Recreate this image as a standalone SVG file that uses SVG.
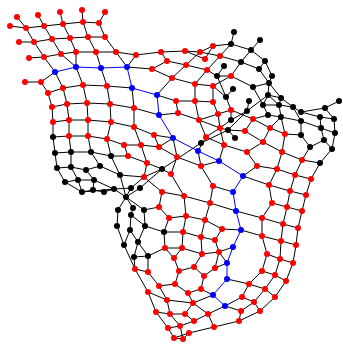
<svg xmlns="http://www.w3.org/2000/svg" width="343" height="345" viewBox="0 0 343 345">
<style>
.e{fill:none;stroke:#000;stroke-width:1}
.b{fill:none;stroke:#00f;stroke-width:1}
.r{fill:#f00}.k{fill:#000}.u{fill:#00f}
</style>
<rect width="343" height="345" fill="#fff"/>
<g id="connectors">
<path class="e" d="M10 26L26 28L44 26L63 24L83 22L99 23M17 17L26 28M38 15L44 26M60 12L63 24M82 10L83 22M105 12L99 23M19 42L34 42L52 39L70 38L88 37L105 37M26 28L34 42M44 26L52 39M63 24L70 38M83 22L88 37M99 23L105 37M29 58L44 57L61 54L76 52L96 52L116 52M34 42L44 57M52 39L61 54M70 38L76 52M88 37L96 52M105 37L116 52M44 57L55 72M61 54L76 67M76 52L76 67M96 52L101 68M116 52L127 67M136 55L127 67M116 52L136 55L161 52L185 51L200 52L220 56L241 62L259 69M200 52L213 46L231 44L251 50L265 61L272 76L269 83M241 62L251 50M259 69L265 61M259 69L269 83M231 44L234 32M251 50L260 40M231 44L220 56M241 62L231 76M231 76L253 87L269 83M205 59L213 46M185 51L205 59M186 65L200 52M186 65L172 78M161 52L167 61L186 65L207 70L217 76L231 76M152 69L167 61M127 67L152 69L172 78L195 84L213 86M172 78L157 95M195 84L207 70M195 84L195 101M213 86L213 102M176 101L157 95M176 101L195 101L213 102M176 101L178 113M195 101L199 120M213 102L218 114L231 110M213 86L231 76M220 56L207 70M217 76L224 66M217 76L226 97M213 86L226 97L233 89M226 97L231 110M107 86L132 88M110 104L134 108M132 88L134 108L159 115L178 113L199 120L218 114M55 72L41 82M25 82L41 82L48 93L63 88L83 85L107 86M55 72L63 88M76 67L83 85M101 68L107 86M48 93L52 107L67 104L87 103L110 104M63 88L67 104M83 85L87 103M107 86L110 104M52 107L53 122L69 120L88 120L111 122L134 127L154 135L173 138M67 104L69 120M87 103L88 120M110 104L111 122M53 122L53 137L69 136L88 136L107 139L124 145L141 145M69 120L69 136M88 120L88 136M111 122L107 139M134 108L134 127M53 137L55 153L71 152L91 152L111 156L128 156L147 163M69 136L71 152M88 136L91 152M107 139L111 156M55 153L57 168L71 167L86 170L100 166L120 175M71 152L71 167M91 152L100 166M111 156L120 175M57 168L65 182L82 192L93 190L104 192L114 189M71 167L78 180L94 180M65 182L78 180L82 192M86 170L94 180L93 190M94 180L114 189M82 192L114 189L131 188M134 127L141 145M154 135L159 147L177 157L201 166L213 186L233 192M141 145L159 147M124 145L128 156M141 145L147 163M147 163L144 177M147 163L162 169L171 174L184 196M120 175L144 177L162 192M144 177L131 188M162 169L144 177M162 169L140 188M173 138L177 157L171 174M162 192L184 196L210 203L236 211M162 192L159 207L169 218L186 216L205 220L222 229M184 196L186 216M210 203L205 220M213 186L210 203M159 207L144 210M120 175L126 197M114 189L126 197M140 188L126 197M131 188L126 197M126 197L118 210L117 226L124 245M126 197L133 208L131 215L130 230M126 197L144 210L145 226L164 232L183 232L201 237L215 240M131 215L145 226M124 245L130 230M130 230L138 242L145 226M138 242L148 256L134 257L138 242M124 245L135 269M148 256L148 272M134 257L135 269L148 272L159 286L175 284L188 293L201 289L204 276L194 267L179 271L175 284M148 256L165 248L182 248L202 254L219 252L215 268L204 276M164 232L165 248M183 232L182 248M201 237L202 254M215 240L219 252M169 218L164 232M186 216L183 232M205 220L201 237M222 229L215 240M165 248L174 258L179 271M182 248L174 258M202 254L194 267M135 269L148 292L156 312L168 328L174 338L183 339L189 333M148 292L167 300L193 303M159 286L167 300L170 314M156 312L170 314L185 314L194 321M188 293L193 303L185 314M193 303L208 314L194 321L180 326L170 314M180 326L183 339M168 328L180 326M174 338L189 333L214 327L239 321L260 311L275 297L286 281L293 263L296 245L298 228M208 314L214 327M201 289L213 295M193 303L213 295M239 321L241 311L254 302L242 297M254 302L260 311M254 302L265 289L275 297M242 297L249 284L265 289M262 271L249 284M262 271L275 275L286 281M275 275L265 289M267 254L280 259L293 263M267 254L262 271M280 259L275 275M262 236L281 241L296 245M262 236L267 254M281 241L280 259M241 230L262 236L262 218M281 241L283 224M222 229L241 230M219 252L233 247M219 252L227 263L215 268M227 279L249 284M225 306L242 297M225 306L241 311M208 314L225 306M236 211L262 218L283 224L298 228M243 176L269 185L290 191L306 195M257 166L277 169L295 175L311 179M243 176L257 166M277 169L269 185M295 175L290 191M311 179L306 195M269 185L272 203L287 207L302 211M290 191L287 207M306 195L302 211M272 203L262 218M287 207L283 224M302 211L298 228M247 152L257 166M247 152L263 142L282 152L302 160L320 163L332 149M282 152L277 169M302 160L295 175M320 163L311 179M245 131L263 142L270 128L285 134L301 135L310 147L324 140L332 149M253 119L245 131M285 134L282 152M310 147L302 160M231 110L253 119L270 128M253 119L268 115L281 117L301 121L321 128L335 133L332 149M281 117L270 128M281 117L285 134M301 121L301 135M321 128L324 140M301 112L320 117L334 119L335 133M320 117L321 128M293 107L301 121M301 112L325 108L339 101M325 108L334 119M293 107L301 112M269 83L281 98L293 107M268 95L269 83M268 95L281 98L279 105L281 117M268 95L279 105M253 87L263 105L279 105L293 107M263 105L268 95M263 105L268 115M268 95L247 111L228 130L201 143L162 169M249 101L247 111M231 120L247 111M231 110L231 120M220 128L231 120M218 114L220 128L228 130L235 138M228 130L245 131M199 120L220 128M199 120L206 137L220 128L224 145M206 137L198 151M206 137L224 145L247 152M224 145L219 161M198 151L201 166M201 166L219 161M173 138L159 147"/>
<path class="b" d="M55 72L76 67L101 68L127 67L132 88L157 95L159 115L173 138L198 151L219 161L243 176L233 192L236 211L241 230L233 247L227 263L227 279L213 295L225 306"/>
</g>
<g id="nodes-red" class="r">
<g id="r1"><circle cx="17" cy="17" r="3"/></g><g id="r2"><circle cx="38" cy="15" r="3"/></g><g id="r3"><circle cx="60" cy="12" r="3"/></g><g id="r4"><circle cx="82" cy="10" r="3"/></g><g id="r5"><circle cx="105" cy="12" r="3"/></g><g id="r6"><circle cx="10" cy="26" r="3"/></g><g id="r7"><circle cx="26" cy="28" r="3"/></g><g id="r8"><circle cx="44" cy="26" r="3"/></g><g id="r9"><circle cx="63" cy="24" r="3"/></g><g id="r10"><circle cx="83" cy="22" r="3"/></g><g id="r11"><circle cx="99" cy="23" r="3"/></g><g id="r12"><circle cx="19" cy="42" r="3"/></g><g id="r13"><circle cx="34" cy="42" r="3"/></g><g id="r14"><circle cx="52" cy="39" r="3"/></g><g id="r15"><circle cx="70" cy="38" r="3"/></g><g id="r16"><circle cx="88" cy="37" r="3"/></g><g id="r17"><circle cx="105" cy="37" r="3"/></g><g id="r18"><circle cx="29" cy="58" r="3"/></g><g id="r19"><circle cx="44" cy="57" r="3"/></g><g id="r20"><circle cx="61" cy="54" r="3"/></g><g id="r21"><circle cx="76" cy="52" r="3"/></g><g id="r22"><circle cx="96" cy="52" r="3"/></g><g id="r23"><circle cx="116" cy="52" r="3"/></g><g id="r24"><circle cx="136" cy="55" r="3"/></g><g id="r25"><circle cx="161" cy="52" r="3"/></g><g id="r26"><circle cx="185" cy="51" r="3"/></g><g id="r27"><circle cx="200" cy="52" r="3"/></g><g id="r28"><circle cx="213" cy="46" r="3"/></g><g id="r29"><circle cx="220" cy="56" r="3"/></g><g id="r30"><circle cx="205" cy="59" r="3"/></g><g id="r31"><circle cx="167" cy="61" r="3"/></g><g id="r32"><circle cx="186" cy="65" r="3"/></g><g id="r33"><circle cx="207" cy="70" r="3"/></g><g id="r34"><circle cx="152" cy="69" r="3"/></g><g id="r35"><circle cx="172" cy="78" r="3"/></g><g id="r36"><circle cx="195" cy="84" r="3"/></g><g id="r37"><circle cx="213" cy="86" r="3"/></g><g id="r38"><circle cx="231" cy="76" r="3"/></g><g id="r39"><circle cx="25" cy="82" r="3"/></g><g id="r40"><circle cx="41" cy="82" r="3"/></g><g id="r41"><circle cx="48" cy="93" r="3"/></g><g id="r42"><circle cx="63" cy="88" r="3"/></g><g id="r43"><circle cx="83" cy="85" r="3"/></g><g id="r44"><circle cx="107" cy="86" r="3"/></g><g id="r45"><circle cx="52" cy="107" r="3"/></g><g id="r46"><circle cx="67" cy="104" r="3"/></g><g id="r47"><circle cx="87" cy="103" r="3"/></g><g id="r48"><circle cx="110" cy="104" r="3"/></g><g id="r49"><circle cx="134" cy="108" r="3"/></g><g id="r50"><circle cx="53" cy="122" r="3"/></g><g id="r51"><circle cx="69" cy="120" r="3"/></g><g id="r52"><circle cx="88" cy="120" r="3"/></g><g id="r53"><circle cx="111" cy="122" r="3"/></g><g id="r54"><circle cx="134" cy="127" r="3"/></g><g id="r55"><circle cx="69" cy="136" r="3"/></g><g id="r56"><circle cx="88" cy="136" r="3"/></g><g id="r57"><circle cx="107" cy="139" r="3"/></g><g id="r58"><circle cx="124" cy="145" r="3"/></g><g id="r59"><circle cx="141" cy="145" r="3"/></g><g id="r60"><circle cx="154" cy="135" r="3"/></g><g id="r61"><circle cx="159" cy="147" r="3"/></g><g id="r62"><circle cx="128" cy="156" r="3"/></g><g id="r63"><circle cx="147" cy="163" r="3"/></g><g id="r64"><circle cx="144" cy="177" r="3"/></g><g id="r65"><circle cx="171" cy="174" r="3"/></g><g id="r66"><circle cx="177" cy="157" r="3"/></g><g id="r67"><circle cx="176" cy="101" r="3"/></g><g id="r68"><circle cx="195" cy="101" r="3"/></g><g id="r69"><circle cx="213" cy="102" r="3"/></g><g id="r70"><circle cx="178" cy="113" r="3"/></g><g id="r71"><circle cx="199" cy="120" r="3"/></g><g id="r72"><circle cx="218" cy="114" r="3"/></g><g id="r73"><circle cx="231" cy="110" r="3"/></g><g id="r74"><circle cx="220" cy="128" r="3"/></g><g id="r75"><circle cx="206" cy="137" r="3"/></g><g id="r76"><circle cx="224" cy="145" r="3"/></g><g id="r77"><circle cx="201" cy="166" r="3"/></g><g id="r78"><circle cx="213" cy="186" r="3"/></g><g id="r79"><circle cx="184" cy="196" r="3"/></g><g id="r80"><circle cx="162" cy="192" r="3"/></g><g id="r81"><circle cx="210" cy="203" r="3"/></g><g id="r82"><circle cx="159" cy="207" r="3"/></g><g id="r83"><circle cx="169" cy="218" r="3"/></g><g id="r84"><circle cx="186" cy="216" r="3"/></g><g id="r85"><circle cx="205" cy="220" r="3"/></g><g id="r86"><circle cx="222" cy="229" r="3"/></g><g id="r87"><circle cx="183" cy="232" r="3"/></g><g id="r88"><circle cx="201" cy="237" r="3"/></g><g id="r89"><circle cx="215" cy="240" r="3"/></g><g id="r90"><circle cx="165" cy="248" r="3"/></g><g id="r91"><circle cx="182" cy="248" r="3"/></g><g id="r92"><circle cx="202" cy="254" r="3"/></g><g id="r93"><circle cx="219" cy="252" r="3"/></g><g id="r94"><circle cx="174" cy="258" r="3"/></g><g id="r95"><circle cx="135" cy="269" r="3"/></g><g id="r96"><circle cx="148" cy="272" r="3"/></g><g id="r97"><circle cx="179" cy="271" r="3"/></g><g id="r98"><circle cx="194" cy="267" r="3"/></g><g id="r99"><circle cx="215" cy="268" r="3"/></g><g id="r100"><circle cx="204" cy="276" r="3"/></g><g id="r101"><circle cx="159" cy="286" r="3"/></g><g id="r102"><circle cx="175" cy="284" r="3"/></g><g id="r103"><circle cx="201" cy="289" r="3"/></g><g id="r104"><circle cx="148" cy="292" r="3"/></g><g id="r105"><circle cx="188" cy="293" r="3"/></g><g id="r106"><circle cx="167" cy="300" r="3"/></g><g id="r107"><circle cx="193" cy="303" r="3"/></g><g id="r108"><circle cx="156" cy="312" r="3"/></g><g id="r109"><circle cx="170" cy="314" r="3"/></g><g id="r110"><circle cx="185" cy="314" r="3"/></g><g id="r111"><circle cx="208" cy="314" r="3"/></g><g id="r112"><circle cx="194" cy="321" r="3"/></g><g id="r113"><circle cx="180" cy="326" r="3"/></g><g id="r114"><circle cx="214" cy="327" r="3"/></g><g id="r115"><circle cx="168" cy="328" r="3"/></g><g id="r116"><circle cx="189" cy="333" r="3"/></g><g id="r117"><circle cx="174" cy="338" r="3"/></g><g id="r118"><circle cx="183" cy="339" r="3"/></g><g id="r119"><circle cx="239" cy="321" r="3"/></g><g id="r120"><circle cx="241" cy="311" r="3"/></g><g id="r121"><circle cx="260" cy="311" r="3"/></g><g id="r122"><circle cx="254" cy="302" r="3"/></g><g id="r123"><circle cx="242" cy="297" r="3"/></g><g id="r124"><circle cx="275" cy="297" r="3"/></g><g id="r125"><circle cx="265" cy="289" r="3"/></g><g id="r126"><circle cx="249" cy="284" r="3"/></g><g id="r127"><circle cx="286" cy="281" r="3"/></g><g id="r128"><circle cx="275" cy="275" r="3"/></g><g id="r129"><circle cx="262" cy="271" r="3"/></g><g id="r130"><circle cx="293" cy="263" r="3"/></g><g id="r131"><circle cx="280" cy="259" r="3"/></g><g id="r132"><circle cx="267" cy="254" r="3"/></g><g id="r133"><circle cx="296" cy="245" r="3"/></g><g id="r134"><circle cx="281" cy="241" r="3"/></g><g id="r135"><circle cx="262" cy="236" r="3"/></g><g id="r136"><circle cx="298" cy="228" r="3"/></g><g id="r137"><circle cx="283" cy="224" r="3"/></g><g id="r138"><circle cx="262" cy="218" r="3"/></g><g id="r139"><circle cx="302" cy="211" r="3"/></g><g id="r140"><circle cx="287" cy="207" r="3"/></g><g id="r141"><circle cx="272" cy="203" r="3"/></g><g id="r142"><circle cx="306" cy="195" r="3"/></g><g id="r143"><circle cx="290" cy="191" r="3"/></g><g id="r144"><circle cx="269" cy="185" r="3"/></g><g id="r145"><circle cx="311" cy="179" r="3"/></g><g id="r146"><circle cx="295" cy="175" r="3"/></g><g id="r147"><circle cx="277" cy="169" r="3"/></g><g id="r148"><circle cx="257" cy="166" r="3"/></g><g id="r149"><circle cx="302" cy="160" r="3"/></g><g id="r150"><circle cx="282" cy="152" r="3"/></g><g id="r151"><circle cx="263" cy="142" r="3"/></g><g id="r152"><circle cx="247" cy="152" r="3"/></g><g id="r153"><circle cx="245" cy="131" r="3"/></g><g id="r154"><circle cx="253" cy="119" r="3"/></g><g id="r155"><circle cx="270" cy="128" r="3"/></g><g id="r156"><circle cx="285" cy="134" r="3"/></g>
</g>
<g id="nodes-black" class="k">
<g id="k1"><circle cx="234" cy="32" r="3"/></g><g id="k2"><circle cx="260" cy="40" r="3"/></g><g id="k3"><circle cx="231" cy="44" r="3"/></g><g id="k4"><circle cx="251" cy="50" r="3"/></g><g id="k5"><circle cx="241" cy="62" r="3"/></g><g id="k6"><circle cx="265" cy="61" r="3"/></g><g id="k7"><circle cx="259" cy="69" r="3"/></g><g id="k8"><circle cx="272" cy="76" r="3"/></g><g id="k9"><circle cx="269" cy="83" r="3"/></g><g id="k10"><circle cx="224" cy="66" r="3"/></g><g id="k11"><circle cx="217" cy="76" r="3"/></g><g id="k12"><circle cx="253" cy="87" r="3"/></g><g id="k13"><circle cx="233" cy="89" r="3"/></g><g id="k14"><circle cx="226" cy="97" r="3"/></g><g id="k15"><circle cx="268" cy="95" r="3"/></g><g id="k16"><circle cx="281" cy="98" r="3"/></g><g id="k17"><circle cx="249" cy="101" r="3"/></g><g id="k18"><circle cx="263" cy="105" r="3"/></g><g id="k19"><circle cx="279" cy="105" r="3"/></g><g id="k20"><circle cx="293" cy="107" r="3"/></g><g id="k21"><circle cx="301" cy="112" r="3"/></g><g id="k22"><circle cx="325" cy="108" r="3"/></g><g id="k23"><circle cx="339" cy="101" r="3"/></g><g id="k24"><circle cx="247" cy="111" r="3"/></g><g id="k25"><circle cx="268" cy="115" r="3"/></g><g id="k26"><circle cx="281" cy="117" r="3"/></g><g id="k27"><circle cx="231" cy="120" r="3"/></g><g id="k28"><circle cx="228" cy="130" r="3"/></g><g id="k29"><circle cx="235" cy="138" r="3"/></g><g id="k30"><circle cx="201" cy="143" r="3"/></g><g id="k31"><circle cx="162" cy="169" r="3"/></g><g id="k32"><circle cx="301" cy="121" r="3"/></g><g id="k33"><circle cx="320" cy="117" r="3"/></g><g id="k34"><circle cx="334" cy="119" r="3"/></g><g id="k35"><circle cx="321" cy="128" r="3"/></g><g id="k36"><circle cx="335" cy="133" r="3"/></g><g id="k37"><circle cx="301" cy="135" r="3"/></g><g id="k38"><circle cx="324" cy="140" r="3"/></g><g id="k39"><circle cx="310" cy="147" r="3"/></g><g id="k40"><circle cx="332" cy="149" r="3"/></g><g id="k41"><circle cx="320" cy="163" r="3"/></g><g id="k42"><circle cx="53" cy="137" r="3"/></g><g id="k43"><circle cx="55" cy="153" r="3"/></g><g id="k44"><circle cx="71" cy="152" r="3"/></g><g id="k45"><circle cx="91" cy="152" r="3"/></g><g id="k46"><circle cx="111" cy="156" r="3"/></g><g id="k47"><circle cx="57" cy="168" r="3"/></g><g id="k48"><circle cx="71" cy="167" r="3"/></g><g id="k49"><circle cx="86" cy="170" r="3"/></g><g id="k50"><circle cx="100" cy="166" r="3"/></g><g id="k51"><circle cx="120" cy="175" r="3"/></g><g id="k52"><circle cx="65" cy="182" r="3"/></g><g id="k53"><circle cx="78" cy="180" r="3"/></g><g id="k54"><circle cx="94" cy="180" r="3"/></g><g id="k55"><circle cx="82" cy="192" r="3"/></g><g id="k56"><circle cx="93" cy="190" r="3"/></g><g id="k57"><circle cx="104" cy="192" r="3"/></g><g id="k58"><circle cx="114" cy="189" r="3"/></g><g id="k59"><circle cx="131" cy="188" r="3"/></g><g id="k60"><circle cx="140" cy="188" r="3"/></g><g id="k61"><circle cx="126" cy="197" r="3"/></g><g id="k62"><circle cx="118" cy="210" r="3"/></g><g id="k63"><circle cx="133" cy="208" r="3"/></g><g id="k64"><circle cx="131" cy="215" r="3"/></g><g id="k65"><circle cx="144" cy="210" r="3"/></g><g id="k66"><circle cx="117" cy="226" r="3"/></g><g id="k67"><circle cx="130" cy="230" r="3"/></g><g id="k68"><circle cx="145" cy="226" r="3"/></g><g id="k69"><circle cx="164" cy="232" r="3"/></g><g id="k70"><circle cx="124" cy="245" r="3"/></g><g id="k71"><circle cx="138" cy="242" r="3"/></g><g id="k72"><circle cx="134" cy="257" r="3"/></g><g id="k73"><circle cx="148" cy="256" r="3"/></g>
</g>
<g id="nodes-blue" class="u">
<g id="u1"><circle cx="55" cy="72" r="3"/></g><g id="u2"><circle cx="76" cy="67" r="3"/></g><g id="u3"><circle cx="101" cy="68" r="3"/></g><g id="u4"><circle cx="127" cy="67" r="3"/></g><g id="u5"><circle cx="132" cy="88" r="3"/></g><g id="u6"><circle cx="157" cy="95" r="3"/></g><g id="u7"><circle cx="159" cy="115" r="3"/></g><g id="u8"><circle cx="173" cy="138" r="3"/></g><g id="u9"><circle cx="198" cy="151" r="3"/></g><g id="u10"><circle cx="219" cy="161" r="3"/></g><g id="u11"><circle cx="243" cy="176" r="3"/></g><g id="u12"><circle cx="233" cy="192" r="3"/></g><g id="u13"><circle cx="236" cy="211" r="3"/></g><g id="u14"><circle cx="241" cy="230" r="3"/></g><g id="u15"><circle cx="233" cy="247" r="3"/></g><g id="u16"><circle cx="227" cy="263" r="3"/></g><g id="u17"><circle cx="227" cy="279" r="3"/></g><g id="u18"><circle cx="213" cy="295" r="3"/></g><g id="u19"><circle cx="225" cy="306" r="3"/></g>
</g>
</svg>
